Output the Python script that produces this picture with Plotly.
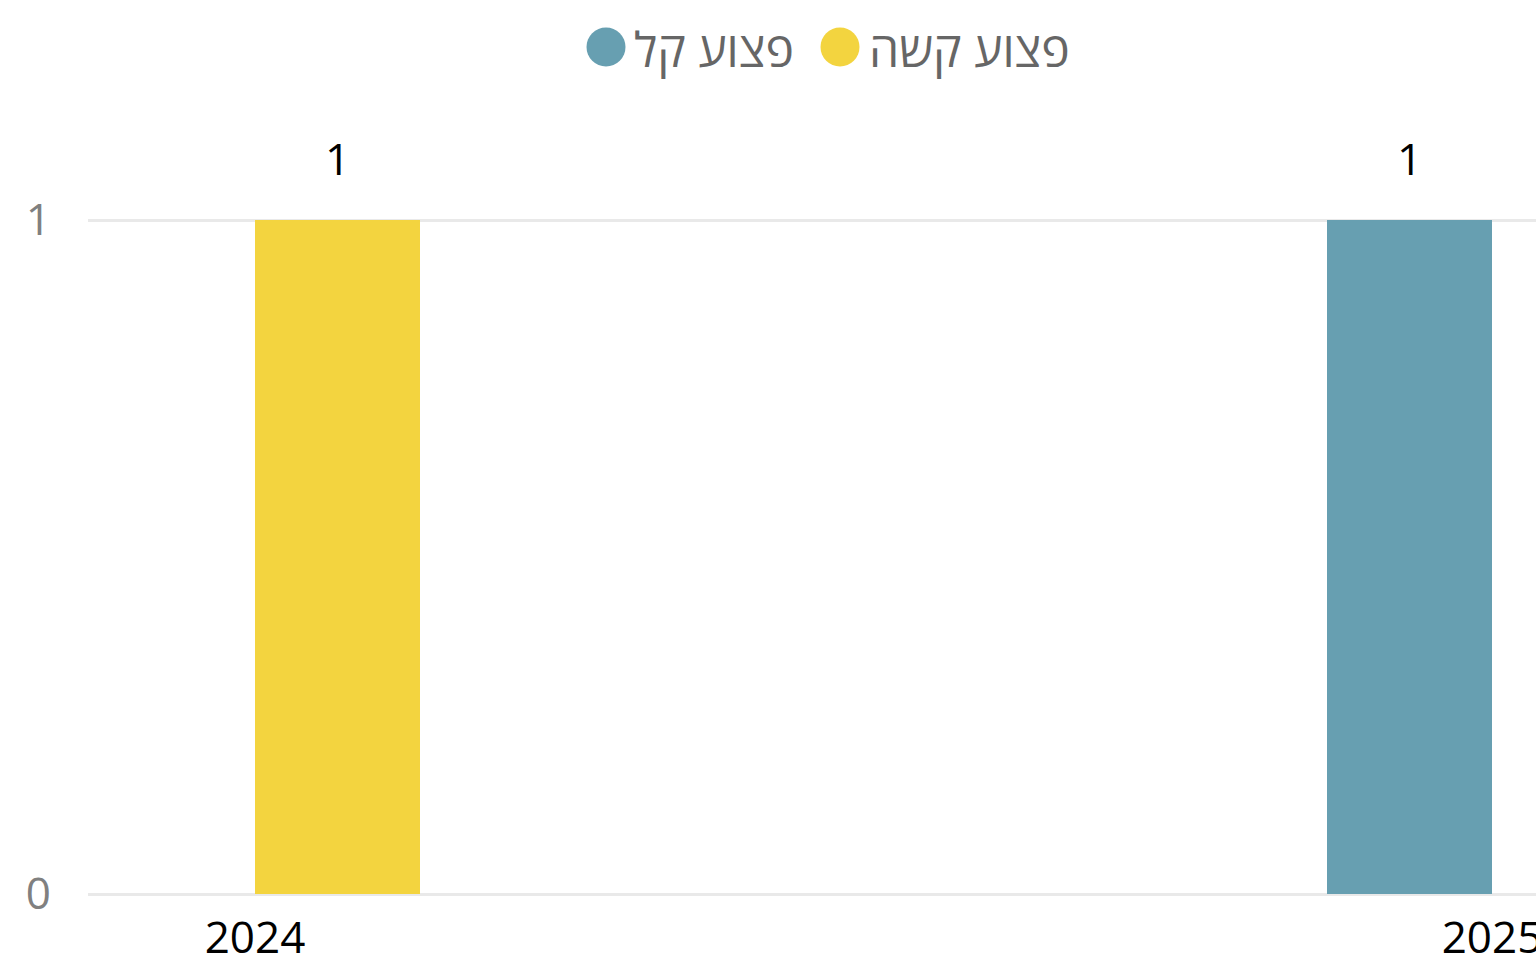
import plotly.graph_objects as go

years = ["2024", "2025"]
series_names = ["פצוע קל", "פצוע קשה"]
light_injured = [None, 1]
severe_injured = [1, None]
series_values = [light_injured, severe_injured]
series_colors = ["#679FB1", "#F3D43F"]

W, H = 1536, 960
ML, MR, MT, MB = 88, 0, 212, 66
PW = W - ML - MR
PH = H - MT - MB
FONT = "Open Sans, DejaVu Sans, sans-serif"

def px_x(p):
    return (p - ML) / PW

def px_y(p):
    return 1 - (p - MT) / PH

cat_px = 1237.0
bar_px = 165
bar_w = bar_px / cat_px
x_range = [-(255 - ML) / cat_px, 1 + (W - 1492) / cat_px]
unit_px = 894 - 220
y_top = 1 + (220 - MT) / unit_px

fig = go.Figure()
for name, vals, col in zip(series_names, series_values, series_colors):
    fig.add_trace(go.Bar(x=years, y=vals, name=name, marker=dict(color=col, line=dict(width=0)),
                         showlegend=False, hoverinfo="skip"))

# data labels
n = len(series_names)
for i, vals in enumerate(series_values):
    for j, v in enumerate(vals):
        if v is None:
            continue
        fig.add_annotation(x=j, y=v, xref="x", yref="y", text=str(v), showarrow=False,
                           xshift=(i - (n - 1) / 2) * bar_px, yshift=30, yanchor="bottom",
                           font=dict(family=FONT, size=44, color="#000000"))

# legend (manual, circular markers)
legend_cx = [606, 840]
legend_tx = [632, 867]
for name, col, cx, tx in zip(series_names, series_colors, legend_cx, legend_tx):
    r = 19.5
    fig.add_shape(type="circle", xref="paper", yref="paper",
                  x0=px_x(cx - r), x1=px_x(cx + r), y0=px_y(47 + r), y1=px_y(47 - r),
                  fillcolor=col, line=dict(width=0))
    fig.add_annotation(xref="paper", yref="paper", x=px_x(tx), y=px_y(48), text=name,
                       showarrow=False, xanchor="left", yanchor="middle",
                       font=dict(family=FONT, size=48, color="#666666"))

fig.update_layout(
    width=W, height=H,
    margin=dict(l=ML, r=MR, t=MT, b=MB, pad=0),
    paper_bgcolor="white", plot_bgcolor="white",
    barmode="group", bargap=1 - 2 * bar_w, bargroupgap=0,
    showlegend=False,
    font=dict(family=FONT),
)
fig.update_xaxes(type="category", range=x_range, showgrid=False, showline=False, zeroline=False,
                 tickfont=dict(family=FONT, size=44, color="#000000"), ticks="",
                 ticklabelstandoff=14, automargin=False)
fig.update_yaxes(range=[0, y_top], tickvals=[0, 1], ticktext=["0", "1"], showgrid=True,
                 gridcolor="#E9E9E9", gridwidth=3, zeroline=True, zerolinecolor="#E9E9E9",
                 zerolinewidth=3, showline=False, ticklabelstandoff=36, automargin=False,
                 tickfont=dict(family=FONT, size=44, color="#808080"))

fig.write_html("out.html", config={"displayModeBar": False},
               post_script="document.body.style.margin='0';document.body.style.overflow='hidden';")
